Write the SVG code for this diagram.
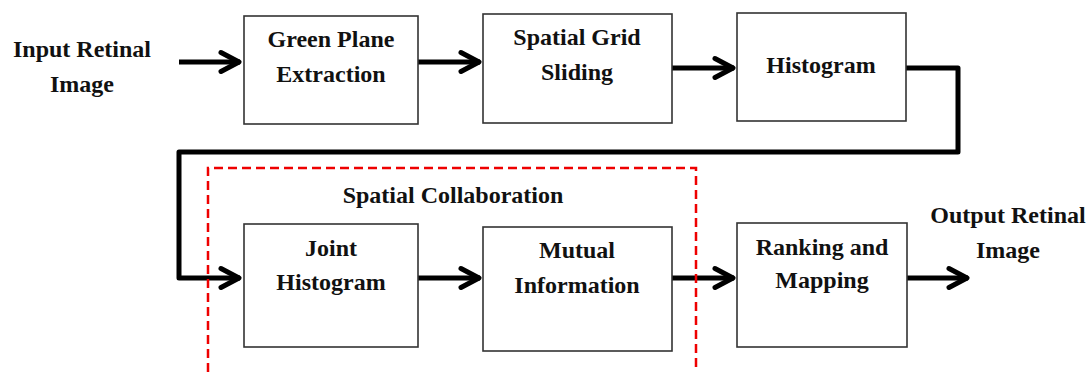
<svg xmlns="http://www.w3.org/2000/svg" width="1091" height="372" viewBox="0 0 1091 372">
<style>
.box{fill:#fff;stroke:#333;stroke-width:1.6}
.t{font-family:"Liberation Serif",serif;font-weight:bold;font-size:24px;fill:#111;text-anchor:middle}
.c{fill:none;stroke:#000;stroke-width:5;stroke-linejoin:round}
</style>
<defs>
<marker id="ah" markerUnits="userSpaceOnUse" markerWidth="30" markerHeight="30" refX="24" refY="15" orient="auto" overflow="visible">
<path d="M5,5.5 L23,15 L5,24.5" fill="none" stroke="#000" stroke-width="5" stroke-linejoin="round" stroke-linecap="round"/>
</marker>
</defs>
<rect width="1091" height="372" fill="#fff"/>
<g id="connectors">
<path class="c" d="M179,62 H240" marker-end="url(#ah)"/>
<path class="c" d="M418,62 H480" marker-end="url(#ah)"/>
<path class="c" d="M672,68 H734" marker-end="url(#ah)"/>
<path class="c" d="M906,68 H958 V152 H179 V278 H240" marker-end="url(#ah)"/>
<path class="c" d="M418,278 H480" marker-end="url(#ah)"/>
<path class="c" d="M672,278 H734" marker-end="url(#ah)"/>
<path class="c" d="M907,278 H968" marker-end="url(#ah)"/>
</g>
<g id="input">
<text class="t" x="82" y="57">Input Retinal</text>
<text class="t" x="82" y="92">Image</text>
</g>
<g id="green">
<rect class="box" x="244" y="16" width="174" height="108"/>
<text class="t" x="331" y="47">Green Plane</text>
<text class="t" x="331" y="82">Extraction</text>
</g>
<g id="grid">
<rect class="box" x="483" y="14" width="189" height="109"/>
<text class="t" x="577" y="45">Spatial Grid</text>
<text class="t" x="577" y="80">Sliding</text>
</g>
<g id="histogram">
<rect class="box" x="737" y="13" width="169" height="108"/>
<text class="t" x="821" y="73">Histogram</text>
</g>
<g id="joint">
<rect class="box" x="244" y="224" width="174" height="123"/>
<text class="t" x="331" y="256">Joint</text>
<text class="t" x="331" y="290">Histogram</text>
</g>
<g id="mutual">
<rect class="box" x="483" y="227" width="189" height="124"/>
<text class="t" x="577" y="258">Mutual</text>
<text class="t" x="577" y="293">Information</text>
</g>
<g id="ranking">
<rect class="box" x="737" y="223" width="170" height="124"/>
<text class="t" x="822" y="255">Ranking and</text>
<text class="t" x="822" y="288">Mapping</text>
</g>
<g id="output">
<text class="t" x="1008" y="223">Output Retinal</text>
<text class="t" x="1008" y="258">Image</text>
</g>
<g id="group-spatial">
<path d="M208,372 V168 H696 V372" fill="none" stroke="#e00" stroke-width="2.5" stroke-dasharray="9,5"/>
<text class="t" x="453" y="203">Spatial Collaboration</text>
</g>
</svg>
